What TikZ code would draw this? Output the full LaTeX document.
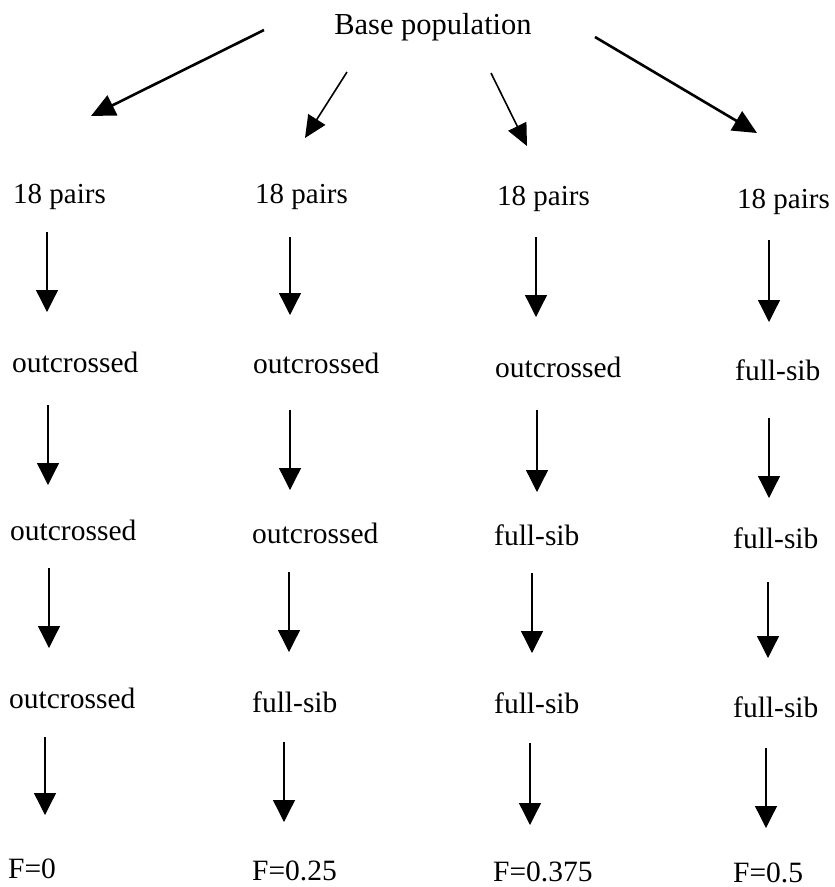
\documentclass[tikz,border=0pt]{standalone}
\usepackage{fontspec}
\setmainfont{Liberation Serif}
\usetikzlibrary{arrows.meta}
\begin{document}
\begin{tikzpicture}[x=1pt,y=-1pt,
  lbl/.style={anchor=base west, inner sep=0pt, text depth=0pt, font=\fontsize{29.5}{34}\selectfont},
  pairlbl/.style={anchor=base west, inner sep=0pt, font=\fontsize{29}{34}\selectfont},
  varrow/.style={line width=1.3pt, -{Triangle[length=22pt,width=22pt]}},
  darrowthick/.style={line width=2.6pt, -{Triangle[length=24pt,width=22pt]}},
  darrowthin/.style={line width=1.6pt, -{Triangle[length=22pt,width=20pt]}}]
\useasboundingbox (0,0) rectangle (835,887);

% title
\node[pairlbl, anchor=base, font=\fontsize{30.5}{36}\selectfont] (base) at (433,34) {Base population};

% column 1
\node[pairlbl] (p1) at (13,203) {18 pairs};
\node[lbl] (r11) at (12,372) {outcrossed};
\node[lbl] (r12) at (10,540) {outcrossed};
\node[lbl] (r13) at (9,708) {outcrossed};
\node[lbl] (f1) at (8,878) {F=0};

% column 2
\node[pairlbl] (p2) at (255,203) {18 pairs};
\node[lbl] (r21) at (253,373) {outcrossed};
\node[lbl] (r22) at (252,543) {outcrossed};
\node[lbl] (r23) at (252,712) {full-sib};
\node[lbl] (f2) at (252,880) {F=0.25};

% column 3
\node[pairlbl] (p3) at (497,205) {18 pairs};
\node[lbl] (r31) at (495,377) {outcrossed};
\node[lbl] (r32) at (494,545) {full-sib};
\node[lbl] (r33) at (494,713) {full-sib};
\node[lbl] (f3) at (493,881) {F=0.375};

% column 4
\node[pairlbl] (p4) at (737,208) {18 pairs};
\node[lbl] (r41) at (735,380) {full-sib};
\node[lbl] (r42) at (733,548) {full-sib};
\node[lbl] (r43) at (733,717) {full-sib};
\node[lbl] (f4) at (733,882) {F=0.5};

% diagonal arrows from base population
\coordinate (dAs) at (264,30);  \coordinate (dAe) at (91,116);
\coordinate (dBs) at (347,72);  \coordinate (dBe) at (305,138);
\coordinate (dCs) at (491,73);  \coordinate (dCe) at (527,146);
\coordinate (dDs) at (595,37);  \coordinate (dDe) at (757,133);
\draw[darrowthick] (dAs) -- (dAe);
\draw[darrowthin] (dBs) -- (dBe);
\draw[darrowthin] (dCs) -- (dCe);
\draw[darrowthick] (dDs) -- (dDe);

% vertical arrows
\foreach \n/\xa/\ya/\xb/\yb in {
  11/47/232/47/312, 12/48/405/48/485, 13/49/568/49/648, 14/45/737/45/815,
  21/290/237/290/315, 22/290/410/290/490, 23/289/572/289/652, 24/284/742/284/822,
  31/536/237/536/317, 32/537/410/537/492, 33/532/573/532/653, 34/530/743/530/825,
  41/769/240/769/322, 42/769/418/769/498, 43/768/582/768/658, 44/766/748/766/828}{
  \coordinate (s\n) at (\xa,\ya);
  \coordinate (e\n) at (\xb,\yb);
  \draw[varrow] (s\n) -- (e\n);
}
\end{tikzpicture}
\end{document}
